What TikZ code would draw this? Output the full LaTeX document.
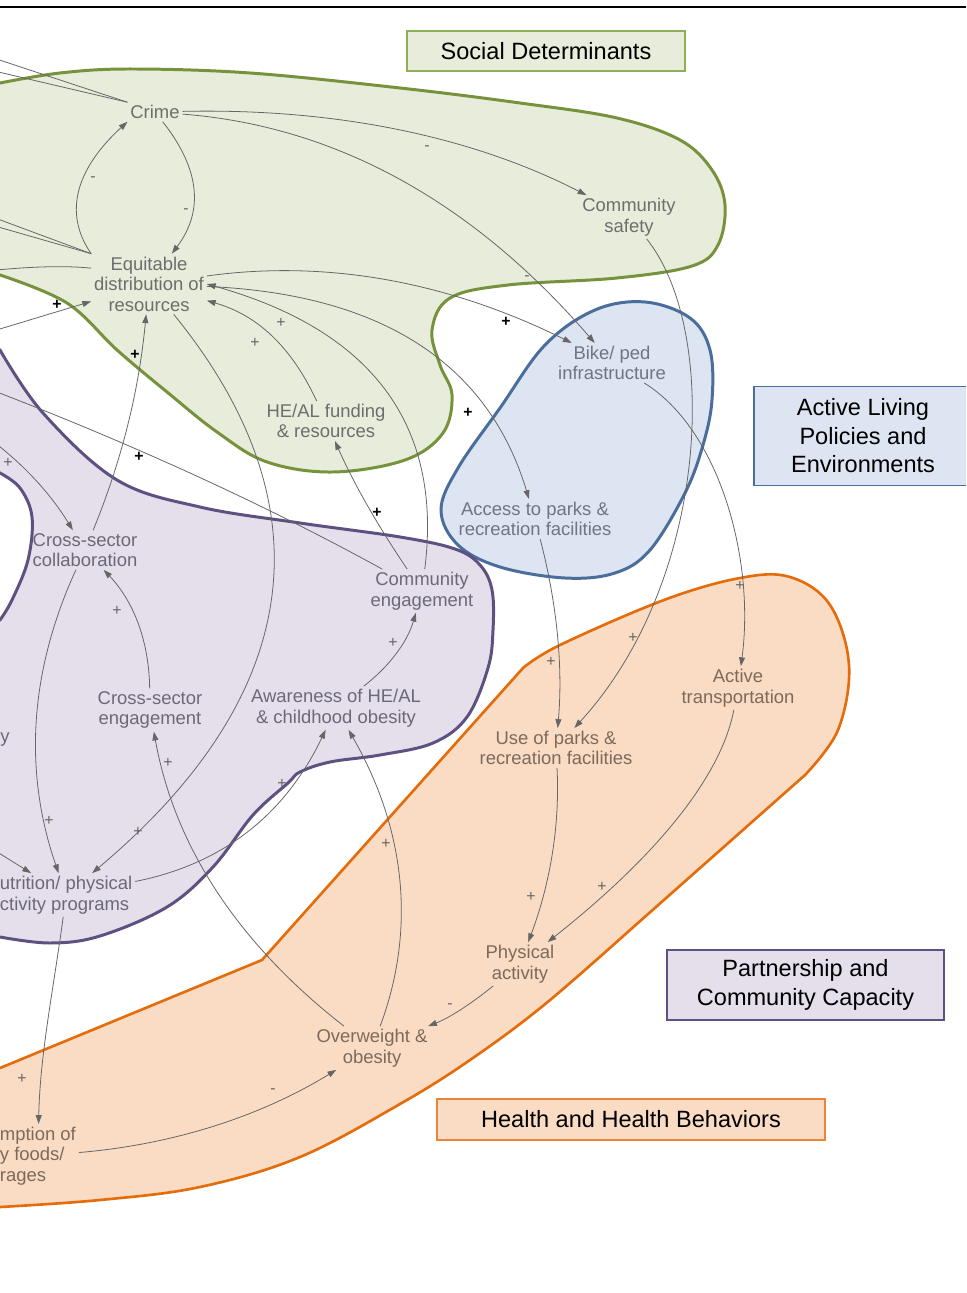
\documentclass[tikz,border=0pt]{standalone}
\usepackage{fontspec}
\setmainfont{Liberation Sans}
\usetikzlibrary{arrows.meta}
\definecolor{sdfill}{HTML}{E7ECDB}
\definecolor{sdline}{HTML}{76923C}
\definecolor{sdbox}{HTML}{8FAE5A}
\definecolor{sdtext}{HTML}{6E6E6E}
\definecolor{alfill}{HTML}{DCE5F1}
\definecolor{alline}{HTML}{4A6D9B}
\definecolor{altext}{HTML}{6F7585}
\definecolor{pcfill}{HTML}{E4DFEB}
\definecolor{pcline}{HTML}{5E5080}
\definecolor{pctext}{HTML}{6C6878}
\definecolor{hbfill}{HTML}{F9DCC3}
\definecolor{hbline}{HTML}{E46C0A}
\definecolor{hbbox}{HTML}{E8853A}
\definecolor{hbtext}{HTML}{7D6A5C}
\definecolor{linkgray}{HTML}{666666}
\newcommand{\varfont}{\fontsize{10.5}{11.7}\selectfont}
\newcommand{\boxfont}{\fontsize{13.4}{16.2}\selectfont}
\newcommand{\signfont}{\fontsize{9}{9}\selectfont}
\tikzset{
  var/.style={align=center, font=\varfont, inner sep=1.5pt},
  sd/.style={text=sdtext}, al/.style={text=altext},
  pc/.style={text=pctext}, hb/.style={text=hbtext},
  link/.style={draw=linkgray, line width=0.45pt, -{Triangle[length=5pt,width=3.4pt]}},
  polsign/.style={font=\signfont, text=linkgray, inner sep=0pt},
  polsignb/.style={font=\signfont\bfseries, text=black, inner sep=0pt},
  legend/.style={line width=1.1pt, font=\boxfont, align=center, inner sep=0pt},
  blob/.style={line width=1.7pt},
}

\begin{document}
\begin{tikzpicture}[x=0.02cm, y=-0.02cm]
  \useasboundingbox (0,0) rectangle (966,1293);
  \clip (0,0) rectangle (966,1293);
  \draw[line width=1.2pt] (0,7) -- (966,7);

  % sectors
  \filldraw[blob, draw=sdline, fill=sdfill] (-30,268) -- (-30,90) -- plot[smooth, tension=0.6] coordinates {
    (0,83) (60,73) (130,69) (250,73) (400,88) (520,103) (617,118) (680,140) (712,170) (725,205)
    (718,245) (692,266) (617,278) (508,285) (450,298) (432,330) (440,365) (452,395) (443,433)
    (405,460) (333,472) (267,462) (217,432) (167,392) (117,350) (67,303) (0,275)} -- cycle;
  \filldraw[blob, draw=alline, fill=alfill] plot[smooth cycle, tension=0.6] coordinates {
    (645,302) (690,318) (710,350) (712,400) (703,445) (685,493) (650,550) (615,573) (565,578)
    (500,567) (458,545) (441,510) (458,468) (500,408) (545,345) (595,310)};
  \filldraw[blob, draw=pcline, fill=pcfill] (-30,335) -- plot[smooth, tension=0.6] coordinates {
    (0,350) (43,413) (117,480) (200,507) (300,523) (400,537) (455,549) (480,565) (492,590)
    (493,630) (488,668) (467,717) (433,743) (380,755) (330,762) (300,772) (288,783) (253,815)
    (213,867) (167,907) (100,936) (50,943) (0,937)} -- (-30,937) -- (-30,620)
    -- plot[smooth, tension=0.6] coordinates {(0,620) (12,600) (28,560) (32,517) (20,488) (0,473)}
    -- (-30,470) -- cycle;
  \filldraw[blob, line width=1.5pt, draw=hbline, fill=hbfill] (-30,1080) -- (0,1068) -- (262,960) -- (523,668)
    -- plot[smooth, tension=0.6] coordinates {(523,668) (560,645) (664,600) (740,578) (790,577)
    (830,605) (849,665) (838,730) (805,775)} -- (630,930)
    -- plot[smooth, tension=0.6] coordinates {(630,930) (544,1005) (470,1060) (400,1104) (300,1157)
    (200,1187) (100,1200) (0,1207)} -- (-30,1208) -- cycle;

  % keys
  \node[legend, draw=sdbox, fill=sdfill, minimum width=5.56cm, minimum height=0.8cm] (sdkey) at (546,51) {Social Determinants};
  \node[legend, draw=alline, fill=alfill, minimum width=4.36cm, minimum height=1.98cm] (alkey) at (863,436) {Active Living\\Policies and\\Environments};
  \node[legend, draw=pcline, fill=pcfill, minimum width=5.54cm, minimum height=1.4cm] (pckey) at (805.5,985) {Partnership and\\Community Capacity};
  \node[legend, draw=hbbox, fill=hbfill, minimum width=7.76cm, minimum height=0.82cm] (hbkey) at (631,1119.5) {Health and Health Behaviors};

  % variables
  \node[var, sd] (crime) at (155,112) {Crime};
  \node[var, sd] (csafety) at (629,217) {Community\\safety};
  \node[var, sd] (equit) at (149,284) {Equitable\\distribution of\\resources};
  \node[var, sd] (funding) at (326,421) {HE/AL funding\\\& resources};
  \node[var, al] (bikeped) at (612,363) {Bike/ ped\\infrastructure};
  \node[var, al] (access) at (535,519) {Access to parks \&\\recreation facilities};
  \node[var, pc] (collab) at (85,550) {Cross-sector\\collaboration};
  \node[var, pc] (commeng) at (422,591) {Community\\engagement};
  \node[var, pc] (crosseng) at (150,710) {Cross-sector\\engagement};
  \node[var, pc] (aware) at (336,708) {Awareness of HE/AL\\\& childhood obesity};
  \node[var, pc] (ycut) at (5,740) {y};
  \node[var, pc, anchor=west, align=left] (nutri) at (-3,895) {utrition/ physical\\ctivity programs};
  \node[var, hb] (activetr) at (738,688) {Active\\transportation};
  \node[var, hb] (useparks) at (556,748) {Use of parks \&\\recreation facilities};
  \node[var, hb] (physact) at (520,964) {Physical\\activity};
  \node[var, hb] (overw) at (372,1048) {Overweight \&\\obesity};
  \node[var, hb, anchor=west, align=left] (consum) at (-3,1156) {mption of\\y foods/\\rages};

  \coordinate (out1) at (-40,47);
  \coordinate (out2) at (-40,63);
  \coordinate (out3) at (-40,205);
  \coordinate (out3b) at (-40,216);
  \coordinate (out4) at (-40,378);
  \coordinate (out5) at (-30,425);
  \coordinate (out6) at (-30,835);
  \coordinate (out7) at (-40,274);
  \coordinate (out8) at (-40,341);

  % links
  \draw[link] (crime) .. controls (337,108) and (473,137) .. (csafety);
  \draw[link] (crime) .. controls (336,126) and (473,202) .. (bikeped);
  \draw[link] (equit) .. controls (329,259) and (451,283) .. (bikeped);
  \draw[link] (equit) .. controls (385,294) and (489,366) .. (access);
  \draw[link] (commeng) .. controls (443,424) and (371,330) .. (equit.east);
  \draw[link] (funding) .. controls (291,346) and (257,315) .. (equit);
  \draw[link] (equit) .. controls (325,500) and (310,690) .. (nutri);
  \draw[link] (collab) .. controls (122,460) and (139,390) .. (equit);
  \draw[link] (commeng) .. controls (253,498) and (109,434) .. (out4);
  \draw[link] (out5) .. controls (13,453) and (47,488) .. (collab);
  \draw[link] (crosseng) .. controls (149,643) and (135,603) .. (collab);
  \draw[link] (collab) .. controls (30,670) and (23,770) .. (nutri);
  \draw[link] (out6) -- (nutri);
  \draw[link] (nutri) .. controls (224,864) and (286,813) .. (aware);
  \draw[link] (nutri) .. controls (54,986) and (40,1054) .. (consum);
  \draw[link] (aware) .. controls (392,664) and (408,640) .. (commeng);
  \draw[link] (commeng) .. controls (378,526) and (354,484) .. (funding);
  \draw[link] (overw) .. controls (416,930) and (406,830) .. (aware);
  \draw[link] (overw) .. controls (236,942) and (174,844) .. (crosseng);
  \draw[link] (physact) .. controls (471,1004) and (449,1018) .. (overw);
  \draw[link] (consum) .. controls (168,1145) and (256,1119) .. (overw);
  \draw[link] (useparks) .. controls (560,826) and (550,884) .. (physact);
  \draw[link] (activetr) .. controls (722,772) and (664,850) .. (physact);
  \draw[link] (access) .. controls (557,604) and (563,666) .. (useparks);
  \draw[link] (csafety) .. controls (720,330) and (710,580) .. (useparks);
  \draw[link] (bikeped) .. controls (720,430) and (755,560) .. (activetr);
  \draw[link] (equit.north west) .. controls (63,213) and (76,169) .. (crime.south west);
  \draw[link] (crime) .. controls (200,169) and (204,211) .. (equit);
  \draw[link] (crime.north west) -- (out1);
  \draw[link] (crime.north west) -- (out2);
  \draw[link] (equit.north west) -- (out3);
  \draw[link] (equit.north west) -- (out3b);
  \draw[link] ([yshift=9pt]equit.west) .. controls (61,265) and (19,267) .. (out7);
  \draw[link] (out8) -- (equit);

  % polarities
  \foreach \x/\y/\s [count=\i] in {427/148/-, 93/179/-, 186/211/-, 527/278/-, 281/323/+, 255/343/+,
      8/463/+, 117/611/+, 49/821/+, 138/832/+, 168/763/+, 282/784/+, 393/643/+, 386/844/+,
      22/1079/+, 551/662/+, 633/638/+, 740/586/+, 531/897/+, 602/887/+, 450/1006/-, 273/1091/-}
    \node[polsign] (s\i) at (\x,\y) {\s};
  \foreach \x/\y [count=\i] in {57/305, 135/355, 139/457, 377/513, 506/322, 468/413}
    \node[polsignb] (b\i) at (\x,\y) {+};
\end{tikzpicture}
\end{document}
